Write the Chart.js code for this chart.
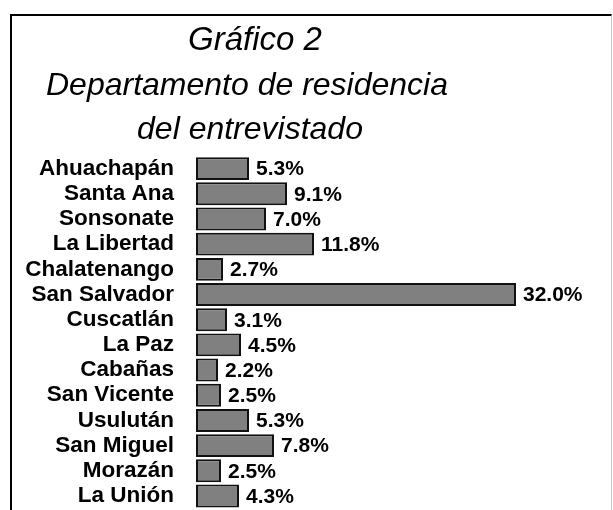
<!DOCTYPE html>
<html>
<head>
<meta charset="utf-8">
<script src="https://cdn.jsdelivr.net/npm/chart.js@4/dist/chart.umd.min.js"></script>
<style>
  html, body { margin: 0; padding: 0; background: #fff; overflow: hidden; }
  #frame { position: absolute; left: 10px; top: 14px; width: 599px; height: 510px;
           border-left: 2px solid #000; border-top: 2px solid #000; border-right: 1px solid #c8c8c8; }
  #c { position: absolute; left: 0; top: 0; }
</style>
</head>
<body>
<div id="frame"></div>
<canvas id="c" width="613" height="510"></canvas>
<script>
const titleLines = ['Gráfico 2', 'Departamento de residencia', 'del entrevistado'];
const categories = ['Ahuachapán', 'Santa Ana', 'Sonsonate', 'La Libertad', 'Chalatenango', 'San Salvador',
  'Cuscatlán', 'La Paz', 'Cabañas', 'San Vicente', 'Usulután', 'San Miguel', 'Morazán', 'La Unión'];
const values = [5.3, 9.1, 7.0, 11.8, 2.7, 32.0, 3.1, 4.5, 2.2, 2.5, 5.3, 7.8, 2.5, 4.3];

const FONT = '"Liberation Sans", Arial, Helvetica, sans-serif';

const titlePlugin = {
  id: 'customTitle',
  afterDraw(chart) {
    const ctx = chart.ctx;
    const centers = [255, 247, 250];
    const sizes = [33, 32, 32];
    ctx.save();
    ctx.fillStyle = '#000';
    ctx.textAlign = 'center';
    ctx.textBaseline = 'alphabetic';
    titleLines.forEach((t, i) => {
      ctx.font = 'italic ' + sizes[i] + 'px ' + FONT;
      ctx.fillText(t, centers[i], 50 + i * 44.5);
    });
    ctx.restore();
  }
};

const valueLabels = {
  id: 'valueLabels',
  afterDatasetsDraw(chart) {
    const ctx = chart.ctx;
    const meta = chart.getDatasetMeta(0);
    ctx.save();
    ctx.font = 'bold 21px ' + FONT;
    ctx.fillStyle = '#000';
    ctx.textAlign = 'left';
    ctx.textBaseline = 'middle';
    meta.data.forEach((bar, i) => {
      ctx.fillText(values[i].toFixed(1) + '%', bar.x + 7, bar.y + 1);
    });
    ctx.restore();
  }
};

new Chart(document.getElementById('c'), {
  type: 'bar',
  data: {
    labels: categories,
    datasets: [{
      data: values,
      backgroundColor: '#808080',
      borderColor: '#111111',
      borderWidth: 2,
      borderSkipped: false,
      barPercentage: 0.91,
      categoryPercentage: 1.0
    }]
  },
  options: {
    indexAxis: 'y',
    responsive: false,
    animation: false,
    devicePixelRatio: 1,
    layout: { padding: { top: 156, bottom: 1.4, left: 0, right: 17 } },
    plugins: {
      legend: { display: false },
      title: { display: false },
      tooltip: { enabled: false }
    },
    scales: {
      x: { display: false, min: 0, max: 40 },
      y: {
        afterFit(scale) {
          scale.width = 196;
          scale.paddingTop = 0;
          scale.paddingBottom = 0;
        },
        grid: { display: false, drawTicks: false },
        border: { display: false },
        ticks: {
          color: '#000',
          padding: 22,
          autoSkip: false,
          font: { family: FONT, size: 22.5, weight: 'bold' }
        }
      }
    }
  },
  plugins: [valueLabels, titlePlugin]
});
</script>
</body>
</html>
